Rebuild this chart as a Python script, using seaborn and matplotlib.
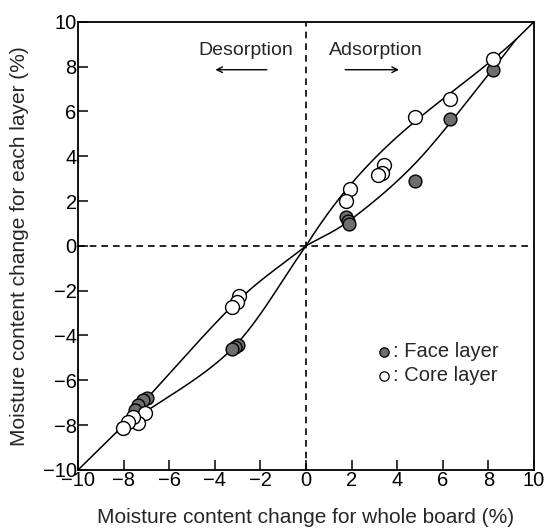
import numpy as np
import pandas as pd
import matplotlib
matplotlib.use("Agg")
import matplotlib.pyplot as plt
import seaborn as sns

# ---- data ----
face_x = [8.2, 6.3, 4.8, 1.75, 1.82, 1.9, -2.97, -3.1, -3.25, -6.99, -7.14, -7.36, -7.5]
face_y = [7.85, 5.65, 2.9, 1.3, 1.12, 0.98, -4.42, -4.5, -4.62, -6.8, -6.9, -7.1, -7.32]
core_x = [8.2, 6.3, 4.8, 3.43, 3.32, 3.17, 1.93, 1.74, -2.94, -3.04, -3.26,
          -7.06, -7.36, -7.57, -7.79, -8.01]
core_y = [8.35, 6.55, 5.75, 3.62, 3.25, 3.14, 2.55, 1.98, -2.26, -2.49, -2.71,
          -7.47, -7.92, -7.62, -7.84, -8.14]

# hand-drawn guide curves (control points)
upper_neg_x = [-8.2, -7.1, -3.1, 0.0]
upper_neg_y = [-8.2, -6.95, -2.55, 0.0]
upper_pos_x = [0.0, 1.93, 4.78, 6.3, 8.25, 9.2]
upper_pos_y = [0.0, 2.6, 5.77, 6.6, 8.4, 9.2]
lower_neg_x = [-8.2, -7.1, -3.2, 0.0]
lower_neg_y = [-8.2, -7.45, -4.55, 0.0]
lower_pos_x = [0.0, 2.0, 4.9, 8.2, 9.2]
lower_pos_y = [0.0, 1.2, 3.8, 7.9, 9.2]
diag_lo = [-10.0, -8.2]
diag_hi = [9.2, 10.0]

ticks = [-10, -8, -6, -4, -2, 0, 2, 4, 6, 8, 10]
tick_labels = ["\u221210", "\u22128", "\u22126", "\u22124", "\u22122", "0", "2", "4", "6", "8", "10"]


def smooth(xs, ys, n=60):
    pts = np.column_stack([xs, ys]).astype(float)
    p = np.vstack([2 * pts[0] - pts[1], pts, 2 * pts[-1] - pts[-2]])
    t = np.linspace(0, 1, n)[:, None]
    out = []
    for i in range(1, len(p) - 2):
        p0, p1, p2, p3 = p[i - 1], p[i], p[i + 1], p[i + 2]
        seg = 0.5 * ((2 * p1) + (-p0 + p2) * t + (2 * p0 - 5 * p1 + 4 * p2 - p3) * t ** 2
                     + (-p0 + 3 * p1 - 3 * p2 + p3) * t ** 3)
        out.append(seg)
    s = np.vstack(out)
    return s[:, 0], s[:, 1]


def fitted(xs, ys, n=200):
    xs = np.asarray(xs, float)
    ys = np.asarray(ys, float)
    w = np.ones_like(xs)
    w[0] = w[-1] = 10
    c = np.polyfit(xs, ys, 3, w=w)
    gx = np.linspace(xs[0], xs[-1], n)
    return gx, np.polyval(c, gx)


sns.set_style("ticks")
plt.rcParams["font.family"] = ["Liberation Sans", "DejaVu Sans"]

fig = plt.figure(figsize=(5.46, 5.31), dpi=100)
ax = fig.add_axes([0.143, 0.115, 0.835, 0.844])

ax.set_xlim(-10, 10)
ax.set_ylim(-10, 10)

ax.axhline(0, color="black", lw=1.2, ls=(0, (4, 3)), zorder=1)
ax.axvline(0, color="black", lw=1.2, ls=(0, (4, 3)), zorder=1)

curves = [smooth(upper_neg_x, upper_neg_y), fitted(upper_pos_x, upper_pos_y),
          smooth(lower_neg_x, lower_neg_y), smooth(lower_pos_x, lower_pos_y)]
for cx, cy in curves:
    ax.plot(cx, cy, color="black", lw=1.1, zorder=2)
ax.plot(diag_lo, diag_lo, color="black", lw=1.1, zorder=2)
ax.plot(diag_hi, diag_hi, color="black", lw=1.1, zorder=2)

face_df = pd.DataFrame({"x": face_x, "y": face_y})
core_df = pd.DataFrame({"x": core_x, "y": core_y})
sns.scatterplot(data=face_df, x="x", y="y", ax=ax, s=85, color="#6e6e6e",
                edgecolor="black", linewidth=1.0, zorder=3, legend=False)
sns.scatterplot(data=core_df, x="x", y="y", ax=ax, s=100, color="white",
                edgecolor="black", linewidth=1.0, zorder=4, legend=False)

ax.set_xticks(ticks)
ax.set_yticks(ticks)
ax.set_xticklabels(tick_labels)
ax.set_yticklabels(tick_labels)
ax.tick_params(direction="in", length=7, width=1.1, labelsize=14.5, colors="black",
               top=False, right=False, pad=1)
for sp in ax.spines.values():
    sp.set_linewidth(1.3)
    sp.set_color("black")

ax.set_xlabel("Moisture content change for whole board (%)", fontsize=15, labelpad=13)
ax.set_ylabel("Moisture content change for each layer (%)", fontsize=15, labelpad=10)

# annotations
ax.text(-2.65, 8.7, "Desorption", ha="center", va="center", fontsize=14)
ax.text(3.05, 8.7, "Adsorption", ha="center", va="center", fontsize=14)
ax.annotate("", xy=(-4.1, 7.86), xytext=(-1.6, 7.86),
            arrowprops=dict(arrowstyle="->", color="black", lw=1.0))
ax.annotate("", xy=(4.2, 7.86), xytext=(1.6, 7.86),
            arrowprops=dict(arrowstyle="->", color="black", lw=1.0))

# legend as in the figure
ax.scatter([3.42], [-4.73], s=45, color="#6e6e6e", edgecolor="black", linewidth=0.9, zorder=4)
ax.scatter([3.42], [-5.8], s=45, color="white", edgecolor="black", linewidth=0.9, zorder=4)
ax.text(3.8, -4.73, ": Face layer", ha="left", va="center", fontsize=14.5)
ax.text(3.8, -5.8, ": Core layer", ha="left", va="center", fontsize=14.5)

fig.savefig("out.png", dpi=100)
